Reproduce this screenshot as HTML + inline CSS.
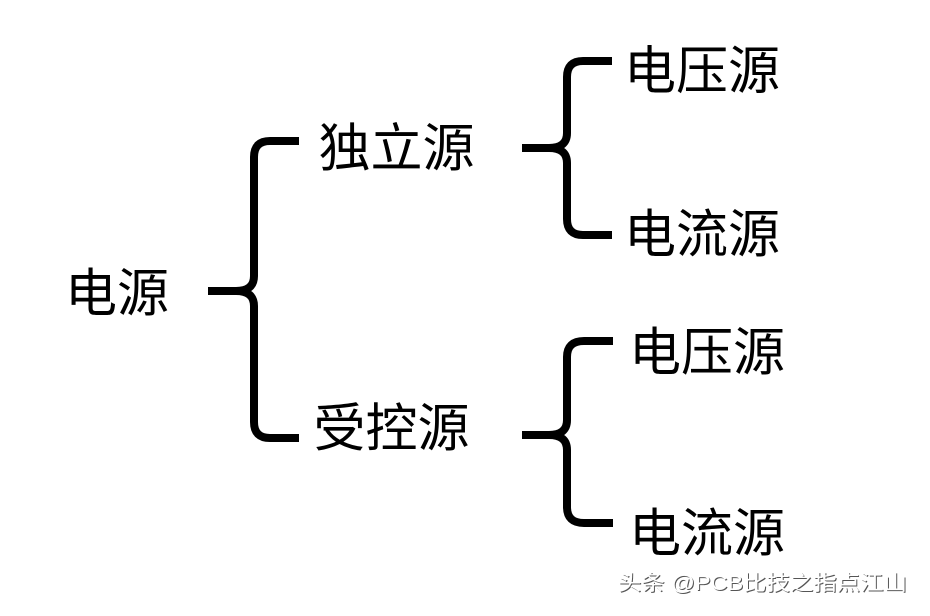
<!DOCTYPE html>
<html>
<head>
<meta charset="utf-8">
<style>
  html,body{margin:0;padding:0;background:#fff;}
  body{width:930px;height:616px;overflow:hidden;}
  svg{display:block;}
  .t{font-family:"Liberation Sans","Noto Sans CJK SC",sans-serif;font-size:52px;fill:#000;text-anchor:middle;}
  .w{font-family:"Liberation Sans","Noto Sans CJK SC",sans-serif;font-size:21px;}
</style>
</head>
<body>
<svg width="930" height="616" viewBox="0 0 930 616" xmlns="http://www.w3.org/2000/svg">
  <rect width="930" height="616" fill="#fff"/>
  <g fill="none" stroke="#000" stroke-width="8" stroke-linecap="butt" stroke-linejoin="round">
    <!-- left brace -->
    <path d="M299,141 L270,141 Q254,141 254,157 L254,276 Q254,291 236,291 L208,291 M236,291 Q254,291 254,306 L254,422 Q254,438 270,438 L299,438"/>
    <!-- upper right brace -->
    <path d="M612,61 L583,61 Q567,61 567,77 L567,133 Q567,148 549,148 L522,148 M549,148 Q567,148 567,163 L567,219 Q567,235 583,235 L612,235"/>
    <!-- lower right brace -->
    <path d="M613,341 L584,341 Q567,341 567,357 L567,420 Q567,435 549,435 L522,435 M549,435 Q567,435 567,450 L567,507 Q567,523 584,523 L613,523"/>
  </g>
  <text class="t" x="117" y="311.5">电源</text>
  <text class="t" x="396.5" y="166.5">独立源</text>
  <text class="t" x="391.5" y="446.5">受控源</text>
  <text class="t" x="702" y="89">电压源</text>
  <text class="t" x="702" y="252.5">电流源</text>
  <text class="t" x="707" y="370.5">电压源</text>
  <text class="t" x="707" y="551.5">电流源</text>
  <text class="w" x="619" y="591" fill="#555" textLength="289" lengthAdjust="spacingAndGlyphs">头条 @PCB比技之指点江山</text>
  <text class="w" x="618" y="590" fill="#fff" textLength="289" lengthAdjust="spacingAndGlyphs">头条 @PCB比技之指点江山</text>
</svg>
</body>
</html>
